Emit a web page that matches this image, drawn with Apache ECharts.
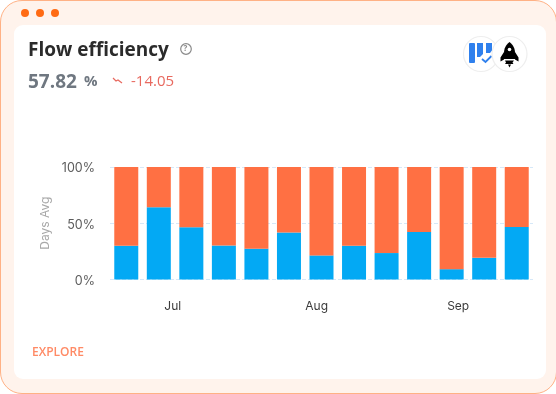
<!DOCTYPE html>
<html>
<head>
<meta charset="utf-8">
<title>Flow efficiency</title>
<script src="https://cdn.jsdelivr.net/npm/echarts@6/dist/echarts.min.js"></script>
<style>
html, body { margin: 0; padding: 0; background: #fff; }
#frame { position: absolute; left: 0; top: 0; width: 555px; height: 392px; box-sizing: content-box; border: 1px solid #ffb185; border-radius: 22px; background: #fff3ec; }
.dot { position: absolute; top: 8px; width: 8px; height: 8px; border-radius: 50%; background: #ff6a13; }
#card { position: absolute; left: 14px; top: 25px; width: 532px; height: 354px; border-radius: 9px; background: #fff; }
#main { position: absolute; left: 0; top: 0; width: 556px; height: 394px; }
#icons { position: absolute; left: 462px; top: 35px; }
</style>
</head>
<body>
<div id="frame">
    <div class="dot" style="left:20px"></div>
    <div class="dot" style="left:35px"></div>
    <div class="dot" style="left:50px"></div>
</div>
<div id="card"></div>
<div id="main"></div>
<svg id="icons" width="68" height="38" viewBox="0 0 68 38">
    <circle cx="19" cy="19" r="17.5" fill="#fff" stroke="#eeeeee" stroke-width="1.2"/>
    <rect x="7" y="8" width="6" height="20" rx="1" fill="#2f80ed"/>
    <path d="M15 8h6v11l-3 3h-3z" fill="#2f80ed"/>
    <path d="M24 8h6v7.500l-2 2.500h-4z" fill="#2f80ed"/>
    <path d="M20 24l3.500 3 6-6" fill="none" stroke="#2f80ed" stroke-width="1.8"/>
    <circle cx="47.500" cy="19" r="17.500" fill="#fff" stroke="#eeeeee" stroke-width="1.2"/>
    <path d="M47.500 7c4 3 5.500 7 5.500 11v6h-11v-6c0-4 1.500-8 5.500-11z" fill="#000"/>
    <path d="M42 17l-3.500 5.500v4l3.500-2zM53 17l3.500 5.500v4l-3.500-2z" fill="#000"/>
    <path d="M43 25.500h9l-1.500 2 1 1.500h-8.500l1-1.500z" fill="#000"/>
    <path d="M46 29.500h3l-1.500 3z" fill="#000"/>
    <circle cx="47.500" cy="14.500" r="1.800" fill="#fff"/>
</svg>
<script>
// 数据
var weeks = ['W1', 'W2', 'W3', 'W4', 'W5', 'W6', 'W7', 'W8', 'W9', 'W10', 'W11', 'W12', 'W13'];
var activeValues = [30, 64.3, 46.4, 30.2, 27.4, 41.7, 21.4, 30, 23.5, 42.3, 9.2, 19.3, 46.7];
var waitValues = [70, 35.7, 53.6, 69.8, 72.6, 58.3, 78.6, 70, 76.5, 57.7, 90.8, 80.7, 53.3];
var monthLabels = ['Jul', 'Aug', 'Sep'];
var monthPositions = [1.93, 6.35, 10.7];   // 月份标签在柱序号坐标上的位置

var myChart = echarts.init(document.getElementById('main'), null, { renderer: 'canvas' });

var option = {
    backgroundColor: 'transparent',
    animation: false,
    grid: { left: 110, right: 23, top: 167, height: 112.5 },
    xAxis: [{
        type: 'category',
        data: weeks,
        axisLine: { show: false },
        axisTick: { show: false },
        axisLabel: { show: false }
    }, {
        type: 'value',
        position: 'bottom',
        min: 0,
        max: weeks.length,
        splitLine: { show: false },
        axisLine: { show: false },
        axisTick: { show: false },
        axisLabel: {
            customValues: monthPositions,
            margin: 21,
            color: '#3a3a3a',
            fontSize: 12,
            fontFamily: 'Inter',
            formatter: function (value) {
                return monthLabels[monthPositions.indexOf(value)];
            }
        }
    }],
    yAxis: {
        type: 'value',
        min: 0,
        max: 100,
        interval: 50,
        name: 'Days Avg',
        nameLocation: 'middle',
        nameGap: 45,
        nameTextStyle: { color: '#a8a8a8', fontSize: 12, fontFamily: 'Inter' },
        axisLine: { show: false },
        axisTick: { show: false },
        axisLabel: {
            margin: 15,
            verticalAlign: 'top',
            lineHeight: 3,
            color: '#5c5c5c',
            fontSize: 12.5,
            fontFamily: 'Inter',
            formatter: '{value}%'
        },
        splitLine: { show: true, lineStyle: { type: 'dashed', color: '#d6e8f8', width: 1 } }
    },
    series: [{
        name: 'Active',
        type: 'bar',
        stack: 'total',
        barWidth: 24,
        itemStyle: { color: '#03a9f4' },
        data: activeValues
    }, {
        name: 'Wait',
        type: 'bar',
        stack: 'total',
        barWidth: 24,
        itemStyle: { color: '#ff7043' },
        data: waitValues
    }],
    graphic: [
        { type: 'text', left: 28, top: 41, style: { text: 'Flow efficiency', fill: '#2b2b2b', font: 'bold 19px "Open Sans"' } },
        { type: 'circle', shape: { cx: 186, cy: 49, r: 5.3 }, style: { fill: 'none', stroke: '#8a8a8a', lineWidth: 1.2 } },
        { type: 'text', left: 183.500, top: 45, style: { text: '?', fill: '#8a8a8a', font: 'bold 8px "Open Sans"' } },
        { type: 'text', left: 28, top: 73, style: { text: '57.82', fill: '#6f7780', font: 'bold 19px "Open Sans"' } },
        { type: 'text', left: 84, top: 74, style: { text: '%', fill: '#6f7780', font: 'bold 15px "Open Sans"' } },
        { type: 'polyline', shape: { points: [[113, 78], [116, 81], [118, 80], [122, 83]] }, style: { fill: 'none', stroke: '#e8695f', lineWidth: 1.2 } },
        { type: 'text', left: 131, top: 74, style: { text: '-14.05', fill: '#e8695f', font: '15px "Open Sans"' } },
        { type: 'text', left: 32, top: 347, style: { text: 'EXPLORE', fill: '#ff8a65', font: '600 12px "Open Sans"' } }
    ]
};
myChart.setOption(option);
</script>
</body>
</html>
